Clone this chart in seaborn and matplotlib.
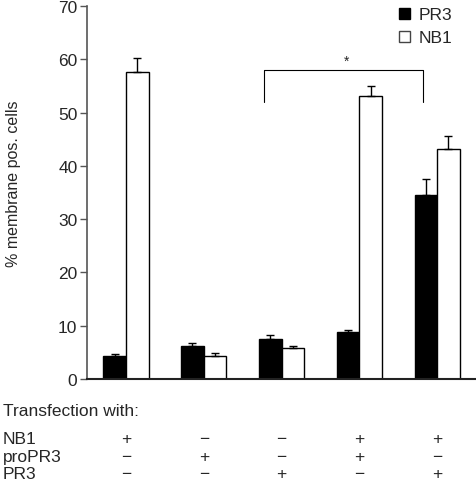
import matplotlib
matplotlib.use('Agg')
import matplotlib.pyplot as plt
import matplotlib.transforms as mtransforms
from matplotlib.patches import Patch
import pandas as pd
import seaborn as sns

# data
groups = ['g1', 'g2', 'g3', 'g4', 'g5']
pr3_mean = [4.3, 6.1, 7.6, 8.8, 34.6]
pr3_err = [0.3, 0.6, 0.7, 0.4, 3.0]
nb1_mean = [57.7, 4.4, 5.9, 53.1, 43.2]
nb1_err = [2.6, 0.4, 0.3, 1.8, 2.4]

rows = ['NB1', 'proPR3', 'PR3']
nb1_row = ['+', '\u2212', '\u2212', '+', '+']
propr3_row = ['\u2212', '+', '\u2212', '+', '\u2212']
pr3_row = ['\u2212', '\u2212', '+', '\u2212', '+']

df = pd.DataFrame({
    'group': groups * 2,
    'marker': ['PR3'] * 5 + ['NB1'] * 5,
    'value': pr3_mean + nb1_mean,
    'err': pr3_err + nb1_err,
})

sns.set_style('white')
plt.rcParams['font.family'] = ['Liberation Sans', 'DejaVu Sans']
fs = 12.5

fig = plt.figure(figsize=(4.76, 4.85), dpi=100)
ax = fig.add_axes([0.183, 0.2165, 0.817, 0.769])

sns.barplot(data=df, x='group', y='value', hue='marker', hue_order=['PR3', 'NB1'],
            palette={'PR3': 'black', 'NB1': 'white'}, edgecolor='black',
            linewidth=1, width=0.58, errorbar=None, legend=False, ax=ax)

# one-sided error bars on top of each bar
bars = ax.patches[:10]
xs = [b.get_x() + b.get_width() / 2 for b in bars]
ys = [b.get_height() for b in bars]
errs = list(df['err'])
ax.errorbar(xs, ys, yerr=[[0] * len(errs), errs], fmt='none', ecolor='black',
            elinewidth=1, capsize=3, capthick=1, zorder=1)

ax.set_xlim(-0.5, 4.5)
ax.set_ylim(0, 70)
ax.set_yticks(range(0, 71, 10))
ax.set_xticks([])
ax.set_xlabel('')
ax.set_ylabel('% membrane pos. cells', fontsize=11.5)
ax.yaxis.set_label_coords(-0.17, 0.527)
ax.tick_params(axis='y', direction='out', length=5, width=1, color='#555555',
               labelsize=fs, left=True, pad=2)
for s in ['top', 'right']:
    ax.spines[s].set_visible(False)
ax.spines['left'].set_color('#555555')
ax.spines['left'].set_linewidth(1.2)
ax.spines['bottom'].set_color('#222222')
ax.spines['bottom'].set_linewidth(1.5)

# significance bracket
ax.plot([1.77, 1.77, 3.82, 3.82], [52, 58, 58, 52], color='black', lw=0.8)
ax.text(2.83, 59.8, '*', ha='center', va='center', fontsize=10)

handles = [Patch(facecolor='black', edgecolor='black', label='PR3'),
           Patch(facecolor='white', edgecolor='#444444', label='NB1')]
ax.legend(handles=handles, loc='upper left', bbox_to_anchor=(0.785, 1.015),
          frameon=False, fontsize=fs, handlelength=0.6, handleheight=0.6,
          handletextpad=0.5, labelspacing=0.45, borderaxespad=0.0)

# transfection table under the axis
fig.text(3 / 476, 1 - 412 / 485, 'Transfection with:', fontsize=fs, va='center', ha='left')
trans = mtransforms.blended_transform_factory(ax.transData, fig.transFigure)
row_y = [440, 458, 475]
for name, signs, y in zip(rows, [nb1_row, propr3_row, pr3_row], row_y):
    fig.text(3 / 476, 1 - y / 485, name, fontsize=fs, va='center', ha='left')
    for i, s in enumerate(signs):
        ax.text(i, 1 - y / 485, s, transform=trans, fontsize=fs,
                va='center', ha='center', clip_on=False)

fig.savefig('out.png', dpi=100)
